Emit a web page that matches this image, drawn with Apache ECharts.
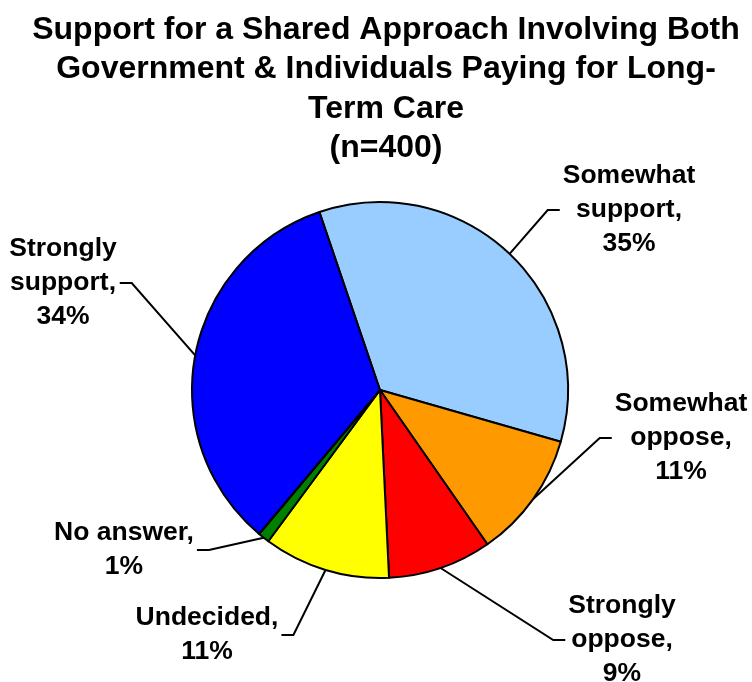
<!DOCTYPE html>
<html>
<head>
<meta charset="utf-8">
<script src="https://cdn.jsdelivr.net/npm/echarts@6/dist/echarts.min.js"></script>
<style>
  html, body { margin: 0; padding: 0; background: #ffffff; }
  #chart { width: 752px; height: 682px; }
</style>
</head>
<body>
<div id="chart"></div>
<script>
// ---- data ----
const titleLines = ['Support for a Shared Approach Involving Both', 'Government & Individuals Paying for Long-', 'Term Care'];
const subtitleText = '(n=400)';
const categories = ['Somewhat support', 'Somewhat oppose', 'Strongly oppose', 'Undecided', 'No answer', 'Strongly support'];
const values = [35, 11, 9, 11, 1, 34];
const sliceColors = ['#99CCFF', '#FF9900', '#FF0000', '#FFFF00', '#008000', '#0000FF'];

// ---- layout (pixels) ----
const CX = 380, CY = 390, R = 188;
// label box centers, as offsets from the pie centre
const labelOffsets = [[249, -180], [301, 48], [242, 250], [-173, 245], [-256, 160], [-317, -107]];

const FONT = '"Liberation Sans", Arial, Helvetica, sans-serif';

function labelText(p) {
  const first = p.name.split(' ')[0];
  const name = (first === 'Somewhat' || first === 'Strongly') ? p.name.replace(' ', '\n') : p.name;
  return name + ',\n' + p.value + '%';
}

const chart = echarts.init(document.getElementById('chart'), null, { renderer: 'canvas' });

chart.setOption({
  backgroundColor: '#ffffff',
  animation: false,
  title: [{
    text: titleLines.join('\n') + '\n' + subtitleText,
    left: 386,
    top: 10,
    padding: 0,
    textAlign: 'center',
    textStyle: {
      fontFamily: FONT,
      fontWeight: 'bold',
      fontSize: 32,
      lineHeight: 39.5,
      color: '#000000'
    }
  }],
  series: [{
    type: 'pie',
    center: [CX, CY],
    radius: [0, R],
    startAngle: 108.8,
    clockwise: true,
    avoidLabelOverlap: false,
    data: categories.map((c, i) => ({
      name: c,
      value: values[i],
      itemStyle: { color: sliceColors[i] }
    })),
    itemStyle: {
      borderColor: '#000000',
      borderWidth: 2
    },
    emphasis: { disabled: true },
    label: {
      show: true,
      position: 'outside',
      formatter: labelText,
      fontFamily: FONT,
      fontWeight: 'bold',
      fontSize: 26.5,
      lineHeight: 34,
      color: '#000000',
      align: 'center',
      padding: [0, 3]
    },
    labelLine: {
      show: true,
      length: 20,
      length2: 12,
      smooth: false,
      minTurnAngle: 0,
      lineStyle: { color: '#000000', width: 2 }
    },
    labelLayout: params => {
      const off = labelOffsets[params.dataIndex];
      return {
        x: CX + off[0],
        y: CY + off[1],
        align: 'center',
        verticalAlign: 'middle'
      };
    }
  }]
});
</script>
</body>
</html>
